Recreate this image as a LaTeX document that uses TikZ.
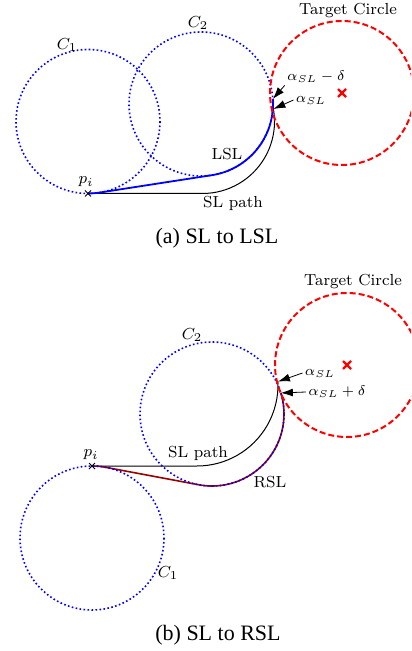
\documentclass[tikz,border=0pt]{standalone}
\usepackage{fontspec}
\newfontfamily\capfont{Liberation Serif}
\usetikzlibrary{calc,arrows.meta}
\newcommand{\asl}{\alpha_{SL}}

\begin{document}
\begin{tikzpicture}[x=0.5pt, y=-0.5pt, line width=0.5pt,
  turncircle/.style={blue, line width=0.8pt, dash pattern=on 0.8pt off 1.2pt},
  targetcircle/.style={red, line width=1pt, dash pattern=on 3pt off 1.5pt},
  lbl/.style={font=\footnotesize, inner sep=1pt},
  anglbl/.style={font=\scriptsize, inner sep=1pt},
  caption/.style={font=\capfont\fontsize{11}{13}\selectfont},
  pointer/.style={-{Latex[length=6pt,width=4pt]}, line width=0.4pt}]
  \useasboundingbox (0,0) rectangle (411,651);
  \clip (0,0) rectangle (411,651);

  % (a) SL to LSL
  \coordinate (c1a) at (88,121.5);
  \coordinate (c2a) at (201,104);
  \coordinate (ta) at (342,93);
  \coordinate (pia) at (88,193.5);
  \coordinate (lslend) at ($(c2a)+(-4:72)$);
  \coordinate (slenda) at ($(202.5,121.5)+(-10:72)$);
  \draw (pia) -- (202.5,193.5) arc[start angle=90, end angle=-10, radius=72];
  \draw[blue, line width=0.9pt] (pia) arc[start angle=90, end angle=81.2, radius=72]
    -- ($(c2a)+(81.2:72)$) arc[start angle=81.2, end angle=-4, radius=72];
  \draw[turncircle] (c1a) circle (72);
  \draw[turncircle] (c2a) circle (72);
  \draw[targetcircle] (ta) circle (72);
  \draw[red, line width=1.2pt] (ta) +(-4,-4) -- +(4,4) +(-4,4) -- +(4,-4);
  \draw (pia) +(-3,-3) -- +(3,3) +(-3,3) -- +(3,-3);
  \node[lbl] (pilbla) at (86,182) {$p_i$};
  \node[lbl] (c1lbla) at (67,45) {$C_1$};
  \node[lbl] (c2lbla) at (198,23) {$C_2$};
  \node[lbl] (tlbla) at (348,11) {Target Circle};
  \node[lbl] (lsllbl) at (227,154) {LSL};
  \node[lbl] (sllbla) at (233,203) {SL path};
  \node[anglbl] (amd) at (316,77) {$\asl-\delta$};
  \node[anglbl] (aa) at (311,100) {$\asl$};
  \draw[pointer] (amd.south west) -- (lslend);
  \draw[pointer] (aa.west) -- (slenda);
  \node[caption] (capa) at (217,238) {(a) SL to LSL};

  % (b) SL to RSL
  \coordinate (c1b) at (92,538);
  \coordinate (c2b) at (212,414);
  \coordinate (tb) at (347,365);
  \coordinate (pib) at (92,466);
  \coordinate (rslend) at ($(c2b)+(-17:72)$);
  \coordinate (slendb) at ($(197,385)+(-2.4:81)$);
  \draw (pib) -- (197,466) arc[start angle=90, end angle=-2.4, radius=81];
  \draw[red!60!black, line width=0.8pt] (pib) arc[start angle=-90, end angle=-79.37, radius=72]
    -- ($(c2b)+(100.63:72)$) arc[start angle=100.63, end angle=-17, radius=72];
  \draw[turncircle] (c1b) circle (72);
  \draw[turncircle] (c2b) circle (72);
  \draw[targetcircle] (tb) circle (72);
  \draw[red, line width=1.2pt] (tb) +(-4,-4) -- +(4,4) +(-4,4) -- +(4,-4);
  \draw (pib) +(-3,-3) -- +(3,3) +(-3,3) -- +(3,-3);
  \node[lbl] (pilblb) at (91,455) {$p_i$};
  \node[lbl] (c1lblb) at (168,573) {$C_1$};
  \node[lbl] (c2lblb) at (192,335) {$C_2$};
  \node[lbl] (tlblb) at (353,282) {Target Circle};
  \node[lbl] (rsllbl) at (270,482) {RSL};
  \node[lbl] (sllblb) at (198,453) {SL path};
  \node[anglbl] (ab) at (320,373) {$\asl$};
  \node[anglbl] (apd) at (337,392) {$\asl+\delta$};
  \draw[pointer] (ab.west) -- (slendb);
  \draw[pointer] (apd.west) -- (rslend);
  \node[caption] (capb) at (218,635) {(b) SL to RSL};
\end{tikzpicture}
\end{document}
